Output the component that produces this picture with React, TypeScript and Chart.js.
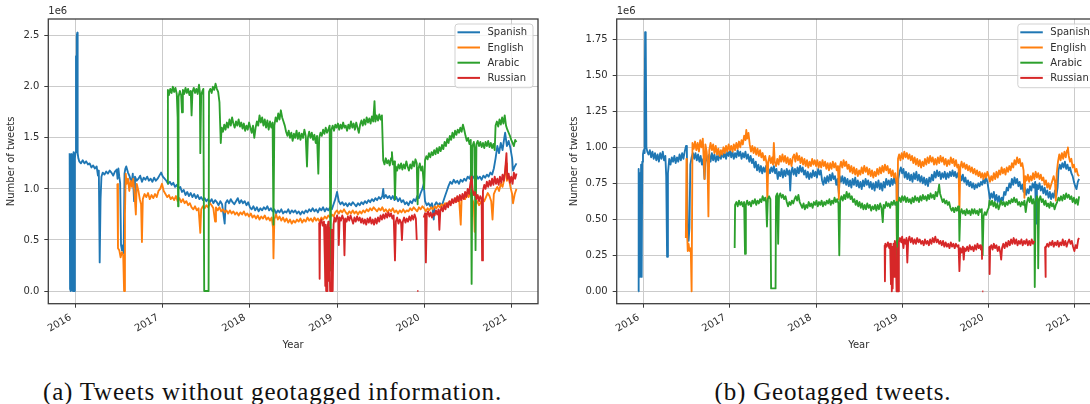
import { useEffect, useRef } from "react";
import { Chart, registerables } from "chart.js";

Chart.register(...registerables);

type P = [number, number | null];

const LANGS = ["Spanish", "English", "Arabic", "Russian"];
const COLORS = ["#1f77b4", "#ff7f0e", "#2ca02c", "#d62728"];
const YEAR_TICKS = [2016, 2017, 2018, 2019, 2020, 2021];
const A_Y_TICKS = [0, 0.5, 1.0, 1.5, 2.0, 2.5];
const B_Y_TICKS = [0, 0.25, 0.5, 0.75, 1.0, 1.25, 1.5, 1.75];
const X_TITLE = "Year";
const Y_TITLE = "Number of tweets";
const OFFSET_TEXT = "1e6";
const CAPTION_A = "(a) Tweets without geotagged information.";
const CAPTION_B = "(b) Geotagged tweets.";

// ---- (a) Tweets without geotagged information (values in millions) ----
const A_ES: P[] = [[2015.930,1.35],[2015.935,0.02],[2015.940,1.30],[2015.945,0.0],[2015.950,1.34],[2015.955,0.01],[2015.962,1.33],[2015.968,0.0],[2015.975,1.36],[2015.982,0.0],[2015.990,1.30],[2015.998,1.36],[2016.003,2.30],[2016.008,1.40],[2016.012,2.50],[2016.018,2.53],[2016.022,1.35],[2016.03,1.30],[2016.04,1.27],[2016.06,1.25],[2016.08,1.28],[2016.10,1.25],[2016.12,1.27],[2016.14,1.24],[2016.16,1.25],[2016.18,1.21],[2016.20,1.23],[2016.22,1.20],[2016.24,1.22],[2016.255,1.13],[2016.265,1.18],[2016.275,0.28],[2016.285,0.90],[2016.295,1.12],[2016.31,1.16],[2016.33,1.14],[2016.35,1.17],[2016.37,1.15],[2016.39,1.18],[2016.41,1.16],[2016.43,1.13],[2016.45,1.17],[2016.47,1.19],[2016.48,1.10],[2016.49,1.20],[2016.50,1.12],[2016.51,1.06],[2016.52,0.45],[2016.53,0.40],[2016.54,0.44],[2016.55,0.37],[2016.56,1.15],[2016.57,1.20],[2016.58,1.22],[2016.60,1.16],[2016.62,1.12],[2016.64,1.05],[2016.655,1.15],[2016.67,0.88],[2016.68,1.12],[2016.70,1.08],[2016.72,1.10],[2016.74,1.13],[2016.76,1.07],[2016.78,1.11],[2016.80,1.09],[2016.82,1.12],[2016.84,1.08],[2016.86,1.10],[2016.88,1.07],[2016.90,1.11],[2016.92,1.08],[2016.94,1.10],[2016.96,1.13],[2016.98,1.16],[2017.00,1.12],[2017.02,1.10],[2017.04,1.08],[2017.06,1.05],[2017.08,1.07],[2017.10,1.04],[2017.12,1.06],[2017.14,1.02],[2017.16,1.04],[2017.18,1.00],[2017.20,1.02],[2017.22,0.97],[2017.24,0.99],[2017.26,0.94],[2017.28,0.97],[2017.30,0.93],[2017.32,0.96],[2017.34,0.92],[2017.36,0.95],[2017.38,0.91],[2017.40,0.94],[2017.42,0.90],[2017.44,0.92],[2017.46,0.89],[2017.48,0.91],[2017.50,0.88],[2017.52,0.90],[2017.54,0.87],[2017.56,0.90],[2017.58,0.86],[2017.60,0.89],[2017.62,0.87],[2017.64,0.84],[2017.66,0.88],[2017.68,0.85],[2017.71,0.66],[2017.72,0.86],[2017.74,0.89],[2017.76,0.86],[2017.78,0.90],[2017.80,0.87],[2017.82,0.85],[2017.84,0.88],[2017.86,0.91],[2017.88,0.86],[2017.90,0.89],[2017.92,0.86],[2017.94,0.88],[2017.96,0.84],[2017.98,0.87],[2018.00,0.82],[2018.02,0.80],[2018.04,0.83],[2018.06,0.79],[2018.08,0.82],[2018.10,0.78],[2018.12,0.81],[2018.14,0.79],[2018.16,0.82],[2018.18,0.80],[2018.20,0.83],[2018.22,0.79],[2018.24,0.81],[2018.26,0.78],[2018.28,0.80],[2018.30,0.76],[2018.32,0.79],[2018.34,0.77],[2018.36,0.80],[2018.38,0.76],[2018.40,0.78],[2018.42,0.77],[2018.44,0.80],[2018.46,0.76],[2018.48,0.79],[2018.50,0.77],[2018.52,0.79],[2018.54,0.76],[2018.56,0.78],[2018.58,0.75],[2018.60,0.78],[2018.62,0.76],[2018.64,0.79],[2018.66,0.77],[2018.68,0.80],[2018.70,0.78],[2018.72,0.81],[2018.74,0.78],[2018.76,0.80],[2018.78,0.77],[2018.80,0.81],[2018.82,0.79],[2018.84,0.82],[2018.86,0.78],[2018.88,0.81],[2018.90,0.79],[2018.92,0.82],[2018.94,0.80],[2018.96,0.85],[2018.98,0.90],[2019.00,0.97],[2019.02,0.88],[2019.04,0.85],[2019.06,0.87],[2019.08,0.84],[2019.10,0.86],[2019.12,0.83],[2019.14,0.86],[2019.16,0.84],[2019.18,0.87],[2019.20,0.85],[2019.22,0.83],[2019.24,0.86],[2019.26,0.84],[2019.28,0.87],[2019.30,0.85],[2019.32,0.88],[2019.34,0.86],[2019.36,0.89],[2019.38,0.87],[2019.40,0.90],[2019.42,0.88],[2019.44,0.91],[2019.46,0.89],[2019.48,0.92],[2019.50,0.90],[2019.52,0.93],[2019.53,1.00],[2019.54,0.91],[2019.56,0.94],[2019.58,0.91],[2019.60,0.93],[2019.62,0.90],[2019.64,0.93],[2019.66,0.89],[2019.68,0.92],[2019.70,0.88],[2019.72,0.91],[2019.74,0.87],[2019.76,0.89],[2019.78,0.85],[2019.80,0.87],[2019.82,0.84],[2019.84,0.88],[2019.86,0.86],[2019.88,0.90],[2019.90,0.88],[2019.92,0.93],[2019.94,0.91],[2019.96,0.96],[2019.98,1.00],[2019.995,1.05],[2020.01,0.88],[2020.03,0.84],[2020.05,0.86],[2020.07,0.83],[2020.09,0.86],[2020.11,0.70],[2020.12,0.84],[2020.14,0.87],[2020.16,0.84],[2020.18,0.86],[2020.20,0.83],[2020.22,0.88],[2020.24,0.93],[2020.26,0.98],[2020.28,1.03],[2020.30,1.07],[2020.32,1.05],[2020.34,1.09],[2020.36,1.06],[2020.38,1.08],[2020.40,1.05],[2020.42,1.09],[2020.44,1.07],[2020.46,1.10],[2020.48,1.08],[2020.50,1.12],[2020.52,1.10],[2020.54,1.15],[2020.56,1.12],[2020.58,1.10],[2020.60,1.13],[2020.62,1.10],[2020.64,1.12],[2020.66,1.09],[2020.68,1.13],[2020.70,1.11],[2020.72,1.14],[2020.74,1.12],[2020.76,1.16],[2020.78,1.14],[2020.80,1.20],[2020.82,1.30],[2020.84,1.42],[2020.86,1.35],[2020.88,1.45],[2020.90,1.38],[2020.92,1.50],[2020.93,1.55],[2020.95,1.42],[2020.97,1.47],[2020.99,1.40],[2021.01,1.30],[2021.02,1.18],[2021.04,1.22],[2021.06,1.25]];

const A_EN: P[] = [[2016.478,1.05],[2016.485,0.42],[2016.50,0.40],[2016.515,0.33],[2016.53,0.38],[2016.545,0.35],[2016.555,0.0],[2016.565,0.75],[2016.574,1.15],[2016.585,1.05],[2016.60,1.10],[2016.615,0.98],[2016.63,1.08],[2016.645,1.02],[2016.66,1.10],[2016.675,0.95],[2016.69,0.75],[2016.70,1.05],[2016.72,0.98],[2016.735,0.90],[2016.75,0.85],[2016.76,0.48],[2016.77,0.90],[2016.79,0.95],[2016.81,0.92],[2016.83,0.96],[2016.85,0.90],[2016.87,0.94],[2016.89,0.91],[2016.91,0.95],[2016.93,0.92],[2016.95,0.98],[2016.97,1.00],[2016.99,1.05],[2017.01,0.98],[2017.03,0.95],[2017.05,0.92],[2017.07,0.94],[2017.09,0.90],[2017.11,0.92],[2017.13,0.89],[2017.15,0.93],[2017.17,0.88],[2017.19,0.91],[2017.21,0.87],[2017.23,0.90],[2017.25,0.86],[2017.27,0.88],[2017.29,0.84],[2017.31,0.86],[2017.33,0.82],[2017.35,0.80],[2017.37,0.83],[2017.39,0.79],[2017.41,0.81],[2017.43,0.57],[2017.44,0.80],[2017.46,0.83],[2017.48,0.81],[2017.50,0.84],[2017.52,0.82],[2017.54,0.86],[2017.56,0.84],[2017.58,0.81],[2017.60,0.68],[2017.61,0.82],[2017.63,0.79],[2017.65,0.82],[2017.67,0.78],[2017.69,0.80],[2017.71,0.77],[2017.73,0.79],[2017.75,0.76],[2017.77,0.79],[2017.79,0.76],[2017.81,0.78],[2017.83,0.75],[2017.85,0.77],[2017.87,0.74],[2017.89,0.77],[2017.91,0.75],[2017.93,0.78],[2017.95,0.74],[2017.97,0.76],[2017.99,0.73],[2018.01,0.76],[2018.03,0.72],[2018.05,0.74],[2018.07,0.71],[2018.09,0.74],[2018.11,0.70],[2018.13,0.73],[2018.15,0.71],[2018.17,0.74],[2018.19,0.70],[2018.21,0.72],[2018.23,0.69],[2018.25,0.72],[2018.265,0.62],[2018.27,0.32],[2018.28,0.70],[2018.30,0.75],[2018.32,0.70],[2018.34,0.73],[2018.36,0.69],[2018.38,0.72],[2018.40,0.68],[2018.42,0.71],[2018.44,0.67],[2018.46,0.70],[2018.48,0.66],[2018.50,0.69],[2018.52,0.67],[2018.54,0.70],[2018.56,0.68],[2018.58,0.71],[2018.60,0.67],[2018.62,0.70],[2018.64,0.68],[2018.66,0.72],[2018.68,0.69],[2018.70,0.71],[2018.72,0.68],[2018.74,0.72],[2018.76,0.69],[2018.78,0.71],[2018.80,0.68],[2018.82,0.72],[2018.84,0.70],[2018.86,0.73],[2018.88,0.71],[2018.90,0.74],[2018.92,0.72],[2018.94,0.75],[2018.96,0.73],[2018.98,0.77],[2019.00,0.79],[2019.02,0.76],[2019.04,0.79],[2019.06,0.77],[2019.08,0.80],[2019.10,0.77],[2019.12,0.75],[2019.14,0.78],[2019.16,0.76],[2019.18,0.79],[2019.20,0.76],[2019.22,0.78],[2019.24,0.75],[2019.26,0.78],[2019.28,0.76],[2019.30,0.79],[2019.32,0.77],[2019.34,0.80],[2019.36,0.78],[2019.38,0.81],[2019.40,0.79],[2019.42,0.82],[2019.44,0.80],[2019.46,0.78],[2019.48,0.81],[2019.50,0.79],[2019.52,0.82],[2019.54,0.78],[2019.56,0.80],[2019.58,0.77],[2019.60,0.80],[2019.62,0.78],[2019.64,0.81],[2019.66,0.77],[2019.68,0.79],[2019.70,0.76],[2019.72,0.79],[2019.74,0.77],[2019.76,0.80],[2019.78,0.77],[2019.80,0.79],[2019.82,0.78],[2019.84,0.81],[2019.86,0.79],[2019.88,0.82],[2019.90,0.80],[2019.92,0.78],[2019.94,0.82],[2019.96,0.80],[2019.98,0.83],[2020.00,0.81],[2020.02,0.78],[2020.04,0.81],[2020.06,0.79],[2020.08,0.82],[2020.10,0.80],[2020.12,0.83],[2020.14,0.81],[2020.16,0.84],[2020.18,0.82],[2020.20,0.85],[2020.22,0.83],[2020.24,0.86],[2020.26,0.84],[2020.28,0.87],[2020.30,0.86],[2020.32,0.89],[2020.34,0.87],[2020.36,0.91],[2020.38,0.88],[2020.40,0.92],[2020.42,0.65],[2020.43,0.90],[2020.45,0.93],[2020.47,0.90],[2020.49,0.95],[2020.51,0.92],[2020.53,0.96],[2020.55,0.90],[2020.57,0.86],[2020.58,0.58],[2020.59,0.85],[2020.61,0.88],[2020.63,0.84],[2020.65,0.87],[2020.67,0.90],[2020.69,0.88],[2020.71,0.92],[2020.73,0.96],[2020.75,0.93],[2020.77,0.88],[2020.785,0.70],[2020.80,0.95],[2020.82,0.99],[2020.84,1.02],[2020.86,0.98],[2020.88,1.05],[2020.90,1.02],[2020.92,1.10],[2020.94,1.25],[2020.95,1.08],[2020.97,1.12],[2020.99,1.02],[2021.01,0.95],[2021.02,0.86],[2021.04,0.95],[2021.06,1.00]];

const A_AR: P[] = [[2017.055,1.05],[2017.058,1.97],[2017.07,1.92],[2017.085,1.98],[2017.10,1.94],[2017.115,2.00],[2017.13,1.95],[2017.145,1.99],[2017.16,1.93],[2017.17,1.70],[2017.175,0.83],[2017.18,1.90],[2017.195,1.96],[2017.21,1.92],[2017.22,1.75],[2017.23,1.97],[2017.245,1.93],[2017.26,1.99],[2017.275,1.94],[2017.29,1.98],[2017.305,1.92],[2017.32,1.96],[2017.33,1.72],[2017.34,1.95],[2017.355,1.99],[2017.37,1.94],[2017.385,1.98],[2017.40,1.93],[2017.415,2.02],[2017.425,1.95],[2017.43,1.35],[2017.44,1.92],[2017.455,1.96],[2017.465,1.98],[2017.475,0.0],[2017.525,0.0],[2017.53,1.95],[2017.545,1.98],[2017.56,1.94],[2017.575,2.00],[2017.59,1.97],[2017.605,2.03],[2017.62,1.98],[2017.635,1.95],[2017.65,1.85],[2017.665,1.45],[2017.675,1.60],[2017.69,1.56],[2017.705,1.63],[2017.72,1.58],[2017.735,1.65],[2017.75,1.60],[2017.765,1.68],[2017.78,1.62],[2017.795,1.70],[2017.81,1.64],[2017.825,1.60],[2017.84,1.66],[2017.855,1.62],[2017.87,1.68],[2017.885,1.61],[2017.90,1.65],[2017.915,1.59],[2017.93,1.64],[2017.945,1.57],[2017.96,1.62],[2017.975,1.58],[2017.99,1.65],[2018.005,1.60],[2018.02,1.55],[2018.035,1.62],[2018.05,1.50],[2018.065,1.60],[2018.08,1.66],[2018.095,1.62],[2018.11,1.72],[2018.125,1.65],[2018.14,1.70],[2018.155,1.62],[2018.17,1.68],[2018.185,1.60],[2018.20,1.67],[2018.215,1.58],[2018.23,1.66],[2018.245,1.60],[2018.26,1.65],[2018.27,0.65],[2018.28,1.62],[2018.295,1.70],[2018.31,1.66],[2018.325,1.74],[2018.34,1.68],[2018.355,1.77],[2018.37,1.70],[2018.385,1.66],[2018.40,1.62],[2018.415,1.56],[2018.43,1.52],[2018.445,1.57],[2018.46,1.50],[2018.475,1.55],[2018.49,1.47],[2018.505,1.54],[2018.52,1.50],[2018.535,1.57],[2018.55,1.49],[2018.565,1.55],[2018.58,1.48],[2018.595,1.54],[2018.61,1.50],[2018.625,1.58],[2018.64,1.52],[2018.655,1.22],[2018.665,1.50],[2018.68,1.56],[2018.695,1.50],[2018.71,1.55],[2018.725,1.48],[2018.74,1.53],[2018.755,1.45],[2018.77,1.52],[2018.785,1.15],[2018.795,1.50],[2018.81,1.55],[2018.825,1.52],[2018.84,1.58],[2018.855,1.54],[2018.87,1.60],[2018.885,1.55],[2018.90,1.58],[2018.915,1.62],[2018.925,0.20],[2018.935,1.58],[2018.95,1.62],[2018.965,1.57],[2018.98,1.63],[2018.995,1.60],[2019.01,1.64],[2019.025,1.58],[2019.04,1.63],[2019.055,1.59],[2019.07,1.65],[2019.085,1.60],[2019.10,1.62],[2019.115,1.57],[2019.13,1.63],[2019.145,1.59],[2019.16,1.66],[2019.175,1.60],[2019.19,1.64],[2019.205,1.58],[2019.22,1.65],[2019.235,1.60],[2019.25,1.55],[2019.265,1.63],[2019.28,1.67],[2019.295,1.62],[2019.31,1.68],[2019.325,1.63],[2019.34,1.70],[2019.355,1.65],[2019.37,1.69],[2019.385,1.64],[2019.40,1.71],[2019.415,1.66],[2019.43,1.86],[2019.44,1.66],[2019.455,1.72],[2019.47,1.67],[2019.485,1.73],[2019.50,1.68],[2019.515,1.72],[2019.53,1.28],[2019.545,1.24],[2019.56,1.30],[2019.575,1.25],[2019.59,1.28],[2019.605,1.23],[2019.62,1.30],[2019.63,1.36],[2019.64,1.24],[2019.655,1.27],[2019.665,0.90],[2019.675,1.22],[2019.69,1.18],[2019.705,1.24],[2019.72,1.20],[2019.735,1.25],[2019.75,1.19],[2019.765,1.24],[2019.78,1.20],[2019.795,1.27],[2019.81,1.22],[2019.825,1.18],[2019.84,1.24],[2019.855,1.20],[2019.87,1.27],[2019.885,1.22],[2019.90,1.29],[2019.915,1.25],[2019.925,0.85],[2019.935,1.20],[2019.95,1.25],[2019.965,1.18],[2019.98,1.22],[2020.00,1.00],[2020.01,1.28],[2020.025,1.32],[2020.04,1.29],[2020.055,1.35],[2020.07,1.31],[2020.085,1.36],[2020.10,1.33],[2020.115,1.38],[2020.13,1.34],[2020.145,1.40],[2020.16,1.35],[2020.175,1.41],[2020.19,1.37],[2020.205,1.43],[2020.22,1.39],[2020.235,1.46],[2020.25,1.42],[2020.265,1.49],[2020.28,1.45],[2020.295,1.52],[2020.31,1.48],[2020.325,1.55],[2020.34,1.50],[2020.355,1.57],[2020.37,1.53],[2020.385,1.58],[2020.40,1.55],[2020.415,1.60],[2020.43,1.56],[2020.445,1.63],[2020.46,1.58],[2020.475,1.52],[2020.49,1.47],[2020.505,1.50],[2020.52,1.44],[2020.535,1.48],[2020.545,0.07],[2020.555,1.42],[2020.57,1.46],[2020.58,1.40],[2020.59,0.40],[2020.60,1.44],[2020.615,1.47],[2020.63,1.42],[2020.645,1.46],[2020.66,1.41],[2020.675,1.45],[2020.69,1.40],[2020.705,1.46],[2020.72,1.42],[2020.735,1.47],[2020.75,1.41],[2020.765,1.45],[2020.78,1.40],[2020.795,1.44],[2020.81,1.38],[2020.82,1.62],[2020.835,1.66],[2020.85,1.61],[2020.865,1.68],[2020.88,1.63],[2020.895,1.70],[2020.91,1.64],[2020.925,1.72],[2020.94,1.62],[2020.955,1.58],[2020.97,1.55],[2020.985,1.52],[2021.00,1.48],[2021.015,1.45],[2021.03,1.42],[2021.045,1.48],[2021.06,1.46]];

const A_RU: P[] = [[2018.795,0.67],[2018.80,0.12],[2018.805,0.66],[2018.82,0.70],[2018.835,0.64],[2018.85,0.68],[2018.86,0.30],[2018.865,0.05],[2018.87,0.65],[2018.875,0.0],[2018.885,0.0],[2018.89,0.62],[2018.90,0.68],[2018.905,0.10],[2018.91,0.62],[2018.92,0.0],[2018.935,0.0],[2018.94,0.60],[2018.95,0.0],[2018.96,0.65],[2018.97,0.72],[2018.985,0.68],[2019.00,0.74],[2019.015,0.70],[2019.02,0.45],[2019.03,0.72],[2019.045,0.69],[2019.06,0.74],[2019.075,0.70],[2019.085,0.35],[2019.095,0.71],[2019.11,0.68],[2019.125,0.73],[2019.14,0.69],[2019.155,0.74],[2019.17,0.70],[2019.185,0.66],[2019.20,0.72],[2019.215,0.68],[2019.23,0.73],[2019.245,0.69],[2019.26,0.72],[2019.275,0.67],[2019.29,0.71],[2019.305,0.66],[2019.32,0.70],[2019.335,0.65],[2019.35,0.71],[2019.365,0.67],[2019.38,0.72],[2019.395,0.66],[2019.41,0.70],[2019.425,0.65],[2019.44,0.71],[2019.455,0.66],[2019.47,0.72],[2019.485,0.68],[2019.50,0.74],[2019.515,0.70],[2019.53,0.75],[2019.545,0.71],[2019.56,0.76],[2019.575,0.72],[2019.59,0.77],[2019.605,0.73],[2019.62,0.76],[2019.635,0.71],[2019.65,0.74],[2019.665,0.30],[2019.675,0.68],[2019.69,0.72],[2019.705,0.66],[2019.72,0.70],[2019.735,0.67],[2019.745,0.50],[2019.755,0.68],[2019.77,0.72],[2019.785,0.67],[2019.80,0.71],[2019.815,0.68],[2019.83,0.73],[2019.845,0.69],[2019.86,0.74],[2019.875,0.70],[2019.89,0.75],[2019.905,0.71],[2019.915,0.50],[2019.918,null],[2019.921,0.0],[2019.934,0.0],[2019.94,null],[2019.995,0.72],[2020.01,0.76],[2020.02,0.28],[2020.03,0.74],[2020.045,0.78],[2020.06,0.73],[2020.075,0.77],[2020.09,0.72],[2020.105,0.76],[2020.12,0.74],[2020.135,0.79],[2020.15,0.75],[2020.165,0.80],[2020.175,0.60],[2020.185,0.78],[2020.20,0.82],[2020.215,0.78],[2020.23,0.84],[2020.245,0.80],[2020.26,0.86],[2020.275,0.82],[2020.29,0.88],[2020.305,0.84],[2020.32,0.90],[2020.335,0.86],[2020.35,0.91],[2020.365,0.87],[2020.38,0.93],[2020.395,0.88],[2020.41,0.94],[2020.425,0.89],[2020.44,0.95],[2020.455,0.90],[2020.47,0.97],[2020.485,0.92],[2020.50,1.00],[2020.515,0.95],[2020.53,1.05],[2020.545,1.12],[2020.555,1.00],[2020.57,0.94],[2020.585,0.97],[2020.60,0.90],[2020.615,0.94],[2020.63,0.88],[2020.645,0.93],[2020.66,0.90],[2020.665,0.30],[2020.675,0.98],[2020.69,1.04],[2020.705,1.00],[2020.72,1.07],[2020.735,1.02],[2020.75,1.08],[2020.765,1.03],[2020.78,1.10],[2020.795,1.04],[2020.81,1.12],[2020.825,1.05],[2020.84,1.10],[2020.855,1.04],[2020.87,1.12],[2020.885,1.06],[2020.90,1.14],[2020.915,1.08],[2020.93,1.18],[2020.945,1.35],[2020.955,1.10],[2020.97,1.15],[2020.985,1.06],[2021.00,1.12],[2021.015,1.05],[2021.03,1.16],[2021.045,1.10],[2021.06,1.15]];

// ---- (b) Geotagged tweets (values in millions) ----
const B_ES: P[] = [[2015.935,0.0],[2015.938,0.38],[2015.942,0.85],[2015.948,0.10],[2015.955,0.82],[2015.962,0.12],[2015.968,0.88],[2015.975,0.10],[2015.982,0.90],[2015.99,0.95],[2015.998,0.98],[2016.005,0.96],[2016.01,1.30],[2016.015,1.80],[2016.022,1.75],[2016.03,1.00],[2016.04,0.97],[2016.055,0.95],[2016.07,0.98],[2016.085,0.93],[2016.10,0.97],[2016.115,0.92],[2016.13,0.96],[2016.145,0.91],[2016.16,0.95],[2016.175,0.90],[2016.19,0.96],[2016.205,0.92],[2016.22,0.97],[2016.235,0.91],[2016.25,0.94],[2016.26,0.80],[2016.27,0.24],[2016.28,0.82],[2016.295,0.92],[2016.31,0.88],[2016.325,0.93],[2016.34,0.90],[2016.355,0.94],[2016.37,0.89],[2016.385,0.93],[2016.40,0.90],[2016.415,0.95],[2016.43,0.91],[2016.445,0.96],[2016.46,0.92],[2016.475,0.97],[2016.49,1.01],[2016.50,0.98],[2016.51,0.40],[2016.52,0.35],[2016.53,0.44],[2016.54,0.88],[2016.555,0.93],[2016.57,0.96],[2016.585,0.92],[2016.60,0.96],[2016.615,0.91],[2016.63,0.95],[2016.645,0.90],[2016.66,0.94],[2016.675,0.88],[2016.69,0.92],[2016.705,0.78],[2016.715,0.90],[2016.73,0.94],[2016.745,0.89],[2016.76,0.95],[2016.775,0.90],[2016.79,0.96],[2016.805,0.91],[2016.82,0.95],[2016.835,0.90],[2016.85,0.94],[2016.865,0.91],[2016.88,0.96],[2016.895,0.92],[2016.91,0.97],[2016.925,0.93],[2016.94,0.96],[2016.955,0.92],[2016.97,0.97],[2016.985,0.94],[2017.00,0.98],[2017.015,0.93],[2017.03,0.97],[2017.045,0.92],[2017.06,0.96],[2017.075,0.93],[2017.09,0.98],[2017.105,0.94],[2017.12,0.97],[2017.135,0.92],[2017.15,0.96],[2017.165,0.93],[2017.18,0.97],[2017.195,0.92],[2017.21,0.95],[2017.225,0.90],[2017.24,0.94],[2017.255,0.89],[2017.27,0.92],[2017.285,0.86],[2017.30,0.90],[2017.315,0.84],[2017.33,0.88],[2017.345,0.83],[2017.36,0.87],[2017.375,0.82],[2017.39,0.86],[2017.405,0.83],[2017.42,0.87],[2017.435,0.80],[2017.45,0.85],[2017.465,0.82],[2017.48,0.86],[2017.495,0.83],[2017.51,0.87],[2017.525,0.82],[2017.54,0.85],[2017.555,0.78],[2017.57,0.83],[2017.585,0.80],[2017.60,0.85],[2017.615,0.79],[2017.63,0.84],[2017.645,0.80],[2017.66,0.85],[2017.675,0.81],[2017.69,0.84],[2017.70,0.70],[2017.71,0.82],[2017.725,0.86],[2017.74,0.81],[2017.755,0.85],[2017.77,0.80],[2017.785,0.86],[2017.80,0.82],[2017.815,0.87],[2017.83,0.83],[2017.845,0.86],[2017.86,0.81],[2017.875,0.84],[2017.89,0.79],[2017.905,0.83],[2017.92,0.78],[2017.935,0.82],[2017.95,0.79],[2017.965,0.84],[2017.98,0.80],[2017.995,0.83],[2018.01,0.79],[2018.025,0.85],[2018.04,0.81],[2018.055,0.84],[2018.07,0.77],[2018.085,0.74],[2018.10,0.79],[2018.115,0.75],[2018.13,0.80],[2018.145,0.76],[2018.16,0.81],[2018.175,0.77],[2018.19,0.82],[2018.205,0.78],[2018.22,0.80],[2018.235,0.74],[2018.25,0.78],[2018.265,0.68],[2018.275,0.80],[2018.29,0.76],[2018.305,0.80],[2018.32,0.75],[2018.335,0.79],[2018.35,0.74],[2018.365,0.78],[2018.38,0.73],[2018.395,0.77],[2018.41,0.72],[2018.425,0.78],[2018.44,0.74],[2018.455,0.79],[2018.47,0.73],[2018.485,0.77],[2018.50,0.72],[2018.515,0.76],[2018.53,0.71],[2018.545,0.77],[2018.56,0.73],[2018.575,0.78],[2018.59,0.74],[2018.605,0.77],[2018.62,0.72],[2018.635,0.76],[2018.65,0.71],[2018.665,0.75],[2018.68,0.70],[2018.695,0.76],[2018.71,0.72],[2018.725,0.77],[2018.74,0.71],[2018.755,0.75],[2018.77,0.70],[2018.785,0.76],[2018.80,0.72],[2018.815,0.78],[2018.83,0.74],[2018.845,0.77],[2018.86,0.73],[2018.875,0.78],[2018.89,0.74],[2018.905,0.79],[2018.92,0.75],[2018.935,0.78],[2018.945,0.24],[2018.955,0.78],[2018.97,0.83],[2018.985,0.86],[2019.00,0.82],[2019.015,0.85],[2019.03,0.79],[2019.045,0.83],[2019.06,0.78],[2019.075,0.82],[2019.09,0.77],[2019.105,0.81],[2019.12,0.76],[2019.135,0.82],[2019.15,0.78],[2019.165,0.83],[2019.18,0.77],[2019.195,0.81],[2019.21,0.76],[2019.225,0.80],[2019.24,0.75],[2019.255,0.79],[2019.27,0.74],[2019.285,0.78],[2019.30,0.73],[2019.315,0.79],[2019.33,0.76],[2019.345,0.81],[2019.36,0.77],[2019.375,0.83],[2019.39,0.79],[2019.405,0.84],[2019.42,0.80],[2019.435,0.83],[2019.45,0.78],[2019.465,0.82],[2019.48,0.79],[2019.495,0.83],[2019.51,0.78],[2019.525,0.82],[2019.54,0.79],[2019.555,0.83],[2019.57,0.80],[2019.585,0.84],[2019.60,0.80],[2019.615,0.83],[2019.63,0.79],[2019.645,0.82],[2019.66,0.78],[2019.675,0.81],[2019.69,0.77],[2019.705,0.81],[2019.72,0.76],[2019.735,0.79],[2019.75,0.74],[2019.765,0.77],[2019.78,0.73],[2019.795,0.76],[2019.81,0.72],[2019.825,0.75],[2019.84,0.71],[2019.855,0.74],[2019.87,0.72],[2019.885,0.75],[2019.90,0.73],[2019.915,0.76],[2019.93,0.74],[2019.945,0.78],[2019.96,0.75],[2019.975,0.79],[2019.99,0.76],[2020.005,0.70],[2020.02,0.64],[2020.035,0.68],[2020.05,0.65],[2020.065,0.69],[2020.08,0.63],[2020.095,0.67],[2020.11,0.62],[2020.125,0.66],[2020.14,0.61],[2020.155,0.65],[2020.17,0.63],[2020.185,0.69],[2020.20,0.67],[2020.215,0.72],[2020.23,0.70],[2020.245,0.75],[2020.26,0.72],[2020.275,0.78],[2020.29,0.74],[2020.305,0.79],[2020.32,0.75],[2020.335,0.78],[2020.35,0.73],[2020.365,0.76],[2020.38,0.71],[2020.395,0.74],[2020.41,0.69],[2020.425,0.72],[2020.44,0.67],[2020.455,0.71],[2020.47,0.68],[2020.485,0.73],[2020.50,0.70],[2020.515,0.75],[2020.53,0.72],[2020.545,0.76],[2020.555,0.47],[2020.565,0.74],[2020.58,0.71],[2020.595,0.75],[2020.61,0.70],[2020.625,0.73],[2020.64,0.68],[2020.655,0.72],[2020.67,0.67],[2020.685,0.70],[2020.70,0.65],[2020.715,0.69],[2020.73,0.64],[2020.745,0.68],[2020.76,0.65],[2020.775,0.70],[2020.79,0.66],[2020.805,0.72],[2020.815,0.84],[2020.83,0.88],[2020.845,0.85],[2020.86,0.89],[2020.875,0.86],[2020.89,0.90],[2020.905,0.85],[2020.92,0.88],[2020.935,0.84],[2020.95,0.86],[2020.965,0.82],[2020.98,0.80],[2020.995,0.76],[2021.01,0.73],[2021.025,0.71],[2021.04,0.76],[2021.055,0.78]];

const B_EN: P[] = [[2016.488,0.37],[2016.495,0.92],[2016.50,0.45],[2016.51,0.28],[2016.52,0.33],[2016.53,0.28],[2016.545,0.30],[2016.555,0.0],[2016.565,1.03],[2016.58,0.99],[2016.595,1.04],[2016.61,0.98],[2016.625,1.03],[2016.64,0.97],[2016.655,1.05],[2016.67,1.00],[2016.685,1.06],[2016.695,0.92],[2016.705,0.78],[2016.715,1.02],[2016.73,0.97],[2016.74,0.88],[2016.75,0.52],[2016.76,0.98],[2016.775,1.03],[2016.79,0.98],[2016.805,1.02],[2016.82,0.96],[2016.835,1.01],[2016.85,0.95],[2016.865,0.99],[2016.88,0.94],[2016.895,0.98],[2016.91,0.95],[2016.925,1.00],[2016.94,0.96],[2016.955,1.01],[2016.97,0.97],[2016.985,1.02],[2017.00,0.98],[2017.015,1.01],[2017.03,0.97],[2017.045,1.02],[2017.06,0.98],[2017.075,1.03],[2017.09,0.99],[2017.105,1.04],[2017.12,1.00],[2017.135,1.05],[2017.15,1.02],[2017.165,1.08],[2017.18,1.05],[2017.19,1.12],[2017.20,1.06],[2017.215,1.10],[2017.23,1.02],[2017.245,0.97],[2017.26,1.01],[2017.275,0.96],[2017.29,1.00],[2017.305,0.95],[2017.32,0.99],[2017.335,0.94],[2017.35,0.98],[2017.365,0.93],[2017.38,0.96],[2017.395,0.91],[2017.41,0.94],[2017.425,0.89],[2017.435,0.62],[2017.445,0.90],[2017.46,0.94],[2017.475,0.89],[2017.49,0.93],[2017.50,0.88],[2017.51,1.03],[2017.52,0.90],[2017.535,0.87],[2017.55,0.92],[2017.565,0.88],[2017.58,0.94],[2017.595,0.90],[2017.61,0.95],[2017.625,0.90],[2017.64,0.94],[2017.655,0.89],[2017.67,0.93],[2017.685,0.88],[2017.70,0.92],[2017.715,0.87],[2017.73,0.93],[2017.745,0.95],[2017.76,0.90],[2017.775,0.96],[2017.79,0.91],[2017.805,0.94],[2017.82,0.89],[2017.835,0.93],[2017.85,0.88],[2017.865,0.92],[2017.88,0.87],[2017.895,0.91],[2017.91,0.86],[2017.925,0.90],[2017.94,0.87],[2017.955,0.92],[2017.97,0.88],[2017.985,0.91],[2018.00,0.87],[2018.015,0.91],[2018.03,0.86],[2018.045,0.90],[2018.06,0.86],[2018.075,0.91],[2018.09,0.87],[2018.105,0.90],[2018.12,0.85],[2018.135,0.89],[2018.15,0.84],[2018.165,0.89],[2018.18,0.85],[2018.195,0.90],[2018.21,0.86],[2018.225,0.89],[2018.24,0.84],[2018.255,0.87],[2018.265,0.64],[2018.275,0.86],[2018.29,0.90],[2018.305,0.86],[2018.32,0.91],[2018.335,0.87],[2018.35,0.90],[2018.365,0.85],[2018.38,0.88],[2018.395,0.83],[2018.41,0.87],[2018.425,0.82],[2018.44,0.86],[2018.455,0.81],[2018.47,0.85],[2018.485,0.80],[2018.50,0.84],[2018.515,0.81],[2018.53,0.86],[2018.545,0.82],[2018.56,0.87],[2018.575,0.83],[2018.59,0.86],[2018.605,0.81],[2018.62,0.85],[2018.635,0.80],[2018.65,0.84],[2018.665,0.79],[2018.68,0.83],[2018.695,0.80],[2018.71,0.85],[2018.725,0.81],[2018.74,0.86],[2018.755,0.82],[2018.77,0.87],[2018.785,0.83],[2018.80,0.88],[2018.815,0.84],[2018.83,0.87],[2018.845,0.82],[2018.86,0.85],[2018.875,0.80],[2018.89,0.84],[2018.905,0.79],[2018.92,0.82],[2018.935,0.75],[2018.94,0.02],[2018.945,0.60],[2018.952,0.92],[2018.965,0.95],[2018.98,0.91],[2018.995,0.96],[2019.01,0.92],[2019.025,0.97],[2019.04,0.93],[2019.055,0.96],[2019.07,0.92],[2019.085,0.95],[2019.10,0.91],[2019.115,0.94],[2019.13,0.89],[2019.145,0.93],[2019.16,0.88],[2019.175,0.92],[2019.19,0.87],[2019.205,0.91],[2019.22,0.86],[2019.235,0.90],[2019.25,0.87],[2019.265,0.92],[2019.28,0.88],[2019.295,0.93],[2019.31,0.89],[2019.325,0.94],[2019.34,0.90],[2019.355,0.93],[2019.37,0.88],[2019.385,0.92],[2019.40,0.88],[2019.415,0.93],[2019.43,0.89],[2019.445,0.94],[2019.46,0.90],[2019.475,0.93],[2019.49,0.88],[2019.505,0.92],[2019.52,0.87],[2019.535,0.91],[2019.55,0.88],[2019.565,0.93],[2019.58,0.89],[2019.595,0.92],[2019.61,0.87],[2019.625,0.91],[2019.64,0.86],[2019.655,0.88],[2019.665,0.55],[2019.675,0.86],[2019.69,0.90],[2019.705,0.86],[2019.72,0.89],[2019.735,0.85],[2019.75,0.88],[2019.765,0.84],[2019.78,0.87],[2019.795,0.83],[2019.81,0.86],[2019.825,0.82],[2019.84,0.85],[2019.855,0.81],[2019.87,0.84],[2019.885,0.80],[2019.90,0.83],[2019.915,0.79],[2019.93,0.82],[2019.945,0.78],[2019.96,0.82],[2019.975,0.79],[2019.99,0.83],[2020.005,0.80],[2020.02,0.76],[2020.035,0.80],[2020.05,0.77],[2020.065,0.82],[2020.08,0.78],[2020.095,0.83],[2020.11,0.79],[2020.125,0.84],[2020.14,0.81],[2020.155,0.86],[2020.17,0.82],[2020.185,0.85],[2020.20,0.81],[2020.215,0.86],[2020.23,0.83],[2020.245,0.87],[2020.26,0.84],[2020.275,0.89],[2020.29,0.86],[2020.305,0.91],[2020.32,0.88],[2020.335,0.93],[2020.35,0.89],[2020.365,0.92],[2020.38,0.87],[2020.395,0.89],[2020.41,0.84],[2020.42,0.65],[2020.43,0.80],[2020.445,0.77],[2020.46,0.81],[2020.475,0.76],[2020.49,0.80],[2020.505,0.77],[2020.52,0.82],[2020.535,0.78],[2020.55,0.83],[2020.565,0.79],[2020.58,0.82],[2020.595,0.78],[2020.61,0.81],[2020.625,0.77],[2020.64,0.79],[2020.655,0.74],[2020.67,0.77],[2020.685,0.72],[2020.70,0.75],[2020.715,0.71],[2020.73,0.74],[2020.745,0.77],[2020.76,0.80],[2020.775,0.76],[2020.785,0.63],[2020.795,0.82],[2020.81,0.90],[2020.825,0.95],[2020.84,0.91],[2020.855,0.96],[2020.87,0.92],[2020.885,0.97],[2020.90,0.93],[2020.915,0.98],[2020.925,1.00],[2020.935,0.94],[2020.95,0.90],[2020.965,0.92],[2020.98,0.86],[2020.995,0.88],[2021.01,0.83],[2021.025,0.85],[2021.04,0.81],[2021.055,0.80]];

const B_AR: P[] = [[2017.055,0.30],[2017.06,0.60],[2017.075,0.62],[2017.09,0.59],[2017.105,0.63],[2017.12,0.60],[2017.135,0.62],[2017.15,0.59],[2017.165,0.62],[2017.175,0.26],[2017.185,0.60],[2017.20,0.63],[2017.215,0.60],[2017.23,0.62],[2017.245,0.59],[2017.26,0.63],[2017.275,0.61],[2017.29,0.64],[2017.305,0.60],[2017.32,0.63],[2017.335,0.61],[2017.35,0.64],[2017.365,0.62],[2017.38,0.66],[2017.395,0.63],[2017.41,0.65],[2017.42,0.62],[2017.43,0.45],[2017.44,0.64],[2017.455,0.66],[2017.47,0.64],[2017.478,0.02],[2017.53,0.02],[2017.535,0.66],[2017.55,0.68],[2017.56,0.33],[2017.57,0.66],[2017.585,0.68],[2017.60,0.65],[2017.615,0.67],[2017.63,0.64],[2017.645,0.66],[2017.66,0.62],[2017.675,0.59],[2017.69,0.62],[2017.705,0.60],[2017.72,0.63],[2017.735,0.61],[2017.75,0.64],[2017.765,0.66],[2017.78,0.63],[2017.795,0.67],[2017.81,0.62],[2017.825,0.60],[2017.84,0.58],[2017.855,0.61],[2017.87,0.57],[2017.885,0.60],[2017.90,0.58],[2017.915,0.62],[2017.93,0.59],[2017.945,0.61],[2017.96,0.58],[2017.975,0.62],[2017.99,0.60],[2018.005,0.63],[2018.02,0.59],[2018.035,0.62],[2018.05,0.60],[2018.065,0.63],[2018.08,0.59],[2018.095,0.62],[2018.11,0.60],[2018.125,0.63],[2018.14,0.61],[2018.155,0.64],[2018.17,0.60],[2018.185,0.63],[2018.20,0.61],[2018.215,0.65],[2018.23,0.62],[2018.245,0.64],[2018.26,0.61],[2018.27,0.25],[2018.28,0.63],[2018.295,0.66],[2018.31,0.63],[2018.325,0.67],[2018.34,0.64],[2018.355,0.69],[2018.37,0.65],[2018.385,0.68],[2018.40,0.64],[2018.415,0.66],[2018.43,0.62],[2018.445,0.64],[2018.46,0.60],[2018.475,0.63],[2018.49,0.59],[2018.505,0.62],[2018.52,0.58],[2018.535,0.61],[2018.55,0.57],[2018.565,0.60],[2018.58,0.57],[2018.595,0.61],[2018.61,0.58],[2018.625,0.60],[2018.64,0.56],[2018.655,0.59],[2018.67,0.57],[2018.685,0.60],[2018.70,0.56],[2018.715,0.60],[2018.73,0.57],[2018.745,0.61],[2018.76,0.58],[2018.775,0.48],[2018.785,0.60],[2018.80,0.58],[2018.815,0.62],[2018.83,0.59],[2018.845,0.61],[2018.86,0.58],[2018.875,0.62],[2018.89,0.60],[2018.905,0.63],[2018.92,0.60],[2018.935,0.62],[2018.945,0.02],[2018.955,0.62],[2018.97,0.65],[2018.985,0.62],[2019.00,0.66],[2019.015,0.63],[2019.03,0.66],[2019.045,0.62],[2019.06,0.65],[2019.075,0.62],[2019.09,0.64],[2019.105,0.61],[2019.12,0.65],[2019.135,0.62],[2019.15,0.66],[2019.165,0.63],[2019.18,0.65],[2019.195,0.62],[2019.21,0.66],[2019.225,0.63],[2019.24,0.67],[2019.255,0.64],[2019.27,0.66],[2019.285,0.63],[2019.30,0.67],[2019.315,0.64],[2019.33,0.68],[2019.345,0.65],[2019.36,0.67],[2019.375,0.64],[2019.39,0.69],[2019.405,0.66],[2019.42,0.70],[2019.43,0.74],[2019.44,0.68],[2019.455,0.65],[2019.47,0.62],[2019.485,0.64],[2019.50,0.61],[2019.515,0.63],[2019.53,0.60],[2019.545,0.62],[2019.56,0.58],[2019.575,0.56],[2019.59,0.58],[2019.605,0.55],[2019.62,0.58],[2019.635,0.56],[2019.65,0.59],[2019.66,0.55],[2019.665,0.35],[2019.675,0.54],[2019.69,0.57],[2019.705,0.54],[2019.72,0.56],[2019.735,0.53],[2019.75,0.57],[2019.765,0.54],[2019.78,0.56],[2019.795,0.53],[2019.81,0.57],[2019.825,0.54],[2019.84,0.57],[2019.855,0.54],[2019.87,0.56],[2019.885,0.53],[2019.90,0.57],[2019.915,0.55],[2019.925,0.57],[2019.935,0.25],[2019.945,0.52],[2019.96,0.55],[2019.975,0.53],[2019.99,0.56],[2020.005,0.58],[2020.015,0.63],[2020.03,0.60],[2020.045,0.63],[2020.06,0.59],[2020.075,0.62],[2020.09,0.58],[2020.105,0.61],[2020.12,0.57],[2020.135,0.60],[2020.15,0.63],[2020.165,0.60],[2020.18,0.62],[2020.195,0.59],[2020.21,0.62],[2020.225,0.60],[2020.24,0.63],[2020.255,0.61],[2020.27,0.64],[2020.285,0.62],[2020.30,0.65],[2020.315,0.62],[2020.33,0.64],[2020.345,0.60],[2020.36,0.62],[2020.375,0.59],[2020.39,0.62],[2020.405,0.60],[2020.42,0.63],[2020.435,0.55],[2020.45,0.62],[2020.465,0.65],[2020.48,0.62],[2020.495,0.66],[2020.51,0.61],[2020.525,0.64],[2020.535,0.60],[2020.54,0.03],[2020.55,0.62],[2020.565,0.66],[2020.575,0.64],[2020.58,0.16],[2020.59,0.63],[2020.605,0.66],[2020.62,0.62],[2020.635,0.64],[2020.65,0.60],[2020.665,0.63],[2020.68,0.59],[2020.695,0.61],[2020.71,0.58],[2020.725,0.62],[2020.74,0.59],[2020.755,0.61],[2020.77,0.57],[2020.785,0.60],[2020.80,0.62],[2020.815,0.65],[2020.83,0.63],[2020.845,0.66],[2020.86,0.63],[2020.875,0.67],[2020.89,0.64],[2020.905,0.68],[2020.92,0.65],[2020.935,0.67],[2020.95,0.64],[2020.965,0.66],[2020.98,0.62],[2020.995,0.65],[2021.01,0.61],[2021.025,0.64],[2021.04,0.60],[2021.055,0.66]];

const B_RU: P[] = [[2018.797,0.32],[2018.80,0.07],[2018.805,0.33],[2018.82,0.31],[2018.835,0.34],[2018.85,0.30],[2018.86,0.33],[2018.87,0.05],[2018.875,0.31],[2018.88,0.0],[2018.885,0.28],[2018.89,0.02],[2018.90,0.33],[2018.91,0.10],[2018.915,0.35],[2018.925,0.32],[2018.935,0.0],[2018.945,0.0],[2018.95,0.30],[2018.955,0.0],[2018.962,0.34],[2018.975,0.37],[2018.99,0.34],[2019.00,0.38],[2019.015,0.30],[2019.025,0.36],[2019.04,0.33],[2019.05,0.37],[2019.06,0.20],[2019.07,0.35],[2019.085,0.38],[2019.10,0.34],[2019.115,0.37],[2019.13,0.33],[2019.145,0.36],[2019.16,0.33],[2019.175,0.37],[2019.19,0.34],[2019.205,0.36],[2019.22,0.33],[2019.235,0.35],[2019.25,0.32],[2019.265,0.36],[2019.28,0.33],[2019.295,0.35],[2019.31,0.32],[2019.325,0.36],[2019.34,0.33],[2019.355,0.37],[2019.37,0.34],[2019.385,0.38],[2019.40,0.34],[2019.415,0.36],[2019.43,0.33],[2019.445,0.35],[2019.46,0.32],[2019.475,0.35],[2019.49,0.31],[2019.505,0.34],[2019.52,0.31],[2019.535,0.33],[2019.55,0.30],[2019.565,0.34],[2019.58,0.31],[2019.595,0.33],[2019.61,0.30],[2019.625,0.33],[2019.64,0.31],[2019.655,0.32],[2019.665,0.14],[2019.675,0.30],[2019.69,0.27],[2019.705,0.31],[2019.715,0.22],[2019.725,0.30],[2019.74,0.28],[2019.755,0.31],[2019.77,0.28],[2019.785,0.32],[2019.80,0.29],[2019.815,0.31],[2019.83,0.28],[2019.845,0.32],[2019.86,0.29],[2019.875,0.33],[2019.89,0.30],[2019.905,0.32],[2019.915,0.29],[2019.925,0.31],[2019.928,0.22],[2019.929,null],[2019.930,0.0],[2019.943,0.0],[2019.945,null],[2020.012,0.31],[2020.016,0.12],[2020.022,0.30],[2020.035,0.32],[2020.05,0.29],[2020.065,0.33],[2020.08,0.30],[2020.095,0.32],[2020.11,0.28],[2020.125,0.31],[2020.14,0.27],[2020.15,0.22],[2020.16,0.30],[2020.175,0.33],[2020.19,0.30],[2020.205,0.34],[2020.22,0.31],[2020.235,0.35],[2020.25,0.32],[2020.265,0.36],[2020.28,0.33],[2020.295,0.37],[2020.31,0.33],[2020.325,0.36],[2020.34,0.32],[2020.355,0.35],[2020.37,0.33],[2020.385,0.36],[2020.40,0.32],[2020.415,0.35],[2020.43,0.33],[2020.445,0.36],[2020.46,0.32],[2020.475,0.35],[2020.49,0.32],[2020.505,0.36],[2020.52,0.33],[2020.535,0.35],[2020.54,null],[2020.66,0.31],[2020.663,0.10],[2020.67,0.30],[2020.685,0.33],[2020.70,0.31],[2020.715,0.34],[2020.73,0.32],[2020.745,0.35],[2020.76,0.31],[2020.775,0.34],[2020.79,0.32],[2020.805,0.35],[2020.82,0.31],[2020.835,0.34],[2020.85,0.32],[2020.865,0.36],[2020.88,0.32],[2020.895,0.35],[2020.91,0.31],[2020.925,0.34],[2020.94,0.36],[2020.955,0.33],[2020.97,0.35],[2020.985,0.31],[2021.00,0.28],[2021.015,0.32],[2021.03,0.30],[2021.045,0.36],[2021.055,0.37]];

const FONT = "'DejaVu Sans', sans-serif";
const TEXT = "#2e2e2e";

interface Spec {
  series: P[][];
  yTicks: number[];
  yMin: number;
  yMax: number;
  decimals: number;
  width: number;
  padLeft: number;
  yWidth: number;
  padRight: number;
}

const H = 351;
const PLOT_TOP = 19;
const PLOT_BOTTOM = 303.7;

const framePlugin = {
  id: "mplFrame",
  afterDatasetsDraw(chart: any) {
    const { ctx, chartArea } = chart;
    ctx.save();
    ctx.strokeStyle = "#3d3d3d";
    ctx.lineWidth = 1.3;
    ctx.strokeRect(chartArea.left, chartArea.top, chartArea.right - chartArea.left, chartArea.bottom - chartArea.top);
    ctx.restore();
  },
  afterDraw(chart: any) {
    const { ctx, chartArea } = chart;
    ctx.save();
    ctx.fillStyle = TEXT;
    ctx.font = `10px ${FONT}`;
    ctx.textAlign = "left";
    ctx.textBaseline = "middle";
    ctx.fillText(OFFSET_TEXT, chartArea.left, 11.7);
    const w = 78, h = 63.7;
    const x0 = chartArea.right - 5 - w;
    const y0 = chartArea.top + 5;
    const r = 3;
    ctx.beginPath();
    ctx.moveTo(x0 + r, y0);
    ctx.lineTo(x0 + w - r, y0);
    ctx.quadraticCurveTo(x0 + w, y0, x0 + w, y0 + r);
    ctx.lineTo(x0 + w, y0 + h - r);
    ctx.quadraticCurveTo(x0 + w, y0 + h, x0 + w - r, y0 + h);
    ctx.lineTo(x0 + r, y0 + h);
    ctx.quadraticCurveTo(x0, y0 + h, x0, y0 + h - r);
    ctx.lineTo(x0, y0 + r);
    ctx.quadraticCurveTo(x0, y0, x0 + r, y0);
    ctx.closePath();
    ctx.fillStyle = "rgba(255,255,255,0.8)";
    ctx.fill();
    ctx.strokeStyle = "rgba(204,204,204,0.9)";
    ctx.lineWidth = 1;
    ctx.stroke();
    chart.data.datasets.forEach((ds: any, i: number) => {
      const y = y0 + 8.3 + i * 15.2;
      ctx.beginPath();
      ctx.strokeStyle = ds.borderColor;
      ctx.lineWidth = 2;
      ctx.moveTo(x0 + 2.5, y);
      ctx.lineTo(x0 + 25, y);
      ctx.stroke();
      ctx.fillStyle = TEXT;
      ctx.font = `10px ${FONT}`;
      ctx.textAlign = "left";
      ctx.textBaseline = "middle";
      ctx.fillText(ds.label, x0 + 32.5, y + 0.5);
    });
    ctx.restore();
  },
};

function makeConfig(spec: Spec): any {
  const tickFont = { family: FONT, size: 10 };
  return {
    type: "line",
    data: {
      datasets: spec.series.map((s, i) => ({
        label: LANGS[i],
        data: s.map(([x, y]) => ({ x, y })),
        borderColor: COLORS[i],
        backgroundColor: COLORS[i],
        borderWidth: 1.85,
        pointRadius: 0,
        tension: 0,
        spanGaps: false,
        borderJoinStyle: "round",
        order: 4 - i,
      })),
    },
    options: {
      animation: false,
      responsive: false,
      events: [],
      layout: { padding: { left: spec.padLeft, right: spec.padRight, top: PLOT_TOP, bottom: 0 } },
      plugins: { legend: { display: false }, tooltip: { enabled: false } },
      scales: {
        x: {
          type: "linear",
          min: 2015.685,
          max: 2021.307,
          afterBuildTicks: (s: any) => {
            s.ticks = YEAR_TICKS.map((v) => ({ value: v }));
          },
          afterFit: (s: any) => {
            s.height = H - PLOT_BOTTOM;
          },
          ticks: {
            callback: (v: any) => String(v),
            autoSkip: false,
            minRotation: 30,
            maxRotation: 30,
            padding: 4,
            labelOffset: -5,
            font: tickFont,
            color: TEXT,
          },
          grid: { color: "#cbcbcb", lineWidth: 1, tickColor: "#3d3d3d", tickLength: 4, tickWidth: 1 },
          border: { display: false },
          title: { display: true, text: X_TITLE, font: tickFont, color: TEXT, padding: { top: 0, bottom: 0 } },
        },
        y: {
          type: "linear",
          min: spec.yMin,
          max: spec.yMax,
          afterBuildTicks: (s: any) => {
            s.ticks = spec.yTicks.map((v) => ({ value: v }));
          },
          afterFit: (s: any) => {
            s.width = spec.yWidth;
          },
          ticks: {
            callback: (v: any) => Number(v).toFixed(spec.decimals),
            padding: 5,
            font: tickFont,
            color: TEXT,
          },
          grid: { color: "#cbcbcb", lineWidth: 1, tickColor: "#3d3d3d", tickLength: 4, tickWidth: 1 },
          border: { display: false },
          title: { display: true, text: Y_TITLE, font: tickFont, color: TEXT, padding: { top: 0, bottom: 0 } },
        },
      },
    },
    plugins: [framePlugin],
  };
}

function TweetChart({ spec, left }: { spec: Spec; left: number }) {
  const ref = useRef<HTMLCanvasElement | null>(null);
  useEffect(() => {
    if (!ref.current) return;
    const chart = new Chart(ref.current, makeConfig(spec));
    return () => chart.destroy();
  }, [spec]);
  return (
    <div style={{ position: "absolute", left, top: 0, width: spec.width, height: H }}>
      <canvas ref={ref} width={spec.width} height={H} style={{ display: "block", width: spec.width, height: H }} />
    </div>
  );
}

const SPEC_A: Spec = {
  series: [A_ES, A_EN, A_AR, A_RU],
  yTicks: A_Y_TICKS,
  yMin: -0.124,
  yMax: 2.664,
  decimals: 1,
  width: 545,
  padLeft: 5,
  yWidth: 43.3,
  padRight: 7,
};

const SPEC_B: Spec = {
  series: [B_ES, B_EN, B_AR, B_RU],
  yTicks: B_Y_TICKS,
  yMin: -0.086,
  yMax: 1.891,
  decimals: 2,
  width: 565,
  padLeft: 23.3,
  yWidth: 48.4,
  padRight: 9.2,
};

const captionStyle: any = {
  position: "absolute",
  top: 377,
  height: 30,
  lineHeight: "30px",
  textAlign: "center",
  fontFamily: "'Liberation Serif', 'Times New Roman', serif",
  fontSize: 25,
  letterSpacing: "0.8px",
  color: "#111",
  whiteSpace: "nowrap",
};

export default function App() {
  return (
    <div style={{ position: "absolute", left: 0, top: 0, width: 1090, height: 404, overflow: "hidden", background: "#fff" }}>
      <TweetChart spec={SPEC_A} left={0} />
      <TweetChart spec={SPEC_B} left={545} />
      <div style={{ ...captionStyle, left: 0, width: 545 }}>{CAPTION_A}</div>
      <div style={{ ...captionStyle, left: 533, width: 600 }}>{CAPTION_B}</div>
    </div>
  );
}
